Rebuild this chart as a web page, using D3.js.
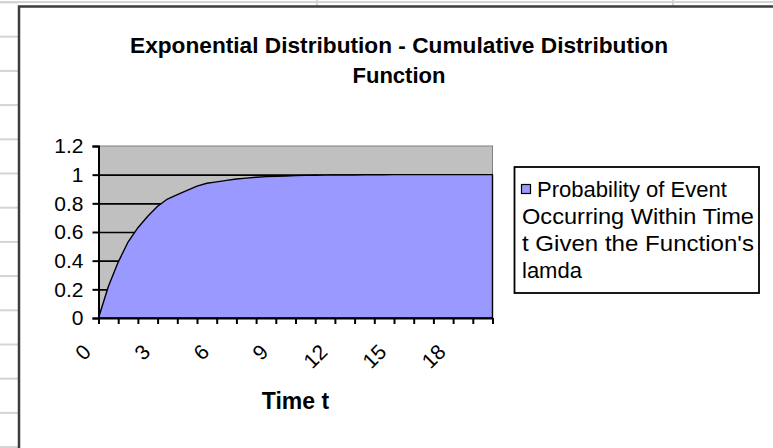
<!DOCTYPE html>
<html><head><meta charset="utf-8">
<script src="https://cdn.jsdelivr.net/npm/d3@7"></script>
<style>
html,body{margin:0;padding:0;background:#fff;}
svg{display:block;font-family:"Liberation Sans",Arial,sans-serif;}
</style></head>
<body>
<svg id="c" width="773" height="448"></svg>
<script>
// ---- data ----
const times = [0,0.5,1,1.5,2,2.5,3,3.5,4,4.5,5,5.5,6,6.5,7,7.5,8,8.5,9,9.5,10,10.5,11,11.5,12,12.5,13,13.5,14,14.5,15,15.5,16,16.5,17,17.5,18,18.5,19,19.5,20];
const probability = [0,0.22,0.39,0.53,0.63,0.71,0.78,0.83,0.86,0.89,0.92,0.94,0.95,0.96,0.97,0.976,0.982,0.986,0.989,0.991,0.993,0.995,0.996,0.997,0.998,0.998,0.998,0.999,0.999,0.999,1,1,1,1,1,1,1,1,1,1,1];
const xTickValues = [0,1,2,3,4,5,6,7,8,9,10,11,12,13,14,15,16,17,18,19,20];
const xLabelValues = [0,3,6,9,12,15,18];
const yTickValues = [0,0.2,0.4,0.6,0.8,1,1.2];
const gridValues = [0.2,0.4,0.6,0.8,1];
const titleLines = ["Exponential Distribution - Cumulative Distribution","Function"];
const xTitle = "Time t";
const legendLines = ["Probability of Event","Occurring Within Time","t Given the Function's","lamda"];

const svg = d3.select("#c");

// ---- spreadsheet background decoration ----
const sheet = svg.append("g");
for (let i = 0; i < 14; i++) {
  const yy = 2.5 + i * 34.2;
  sheet.append("line").attr("x1",0).attr("x2",18).attr("y1",yy).attr("y2",yy)
    .attr("stroke","#d4d4d4").attr("stroke-width",2);
}
sheet.append("line").attr("x1",0).attr("x2",773).attr("y1",2).attr("y2",2).attr("stroke","#d4d4d4").attr("stroke-width",2);
[317,673].forEach(xx => sheet.append("line").attr("x1",xx).attr("x2",xx).attr("y1",0).attr("y2",6).attr("stroke","#d4d4d4").attr("stroke-width",2));

// chart area
svg.append("rect").attr("x",19).attr("y",6.5).attr("width",780).attr("height",460)
  .attr("fill","#fff").attr("stroke","#3c3c3c").attr("stroke-width",2.5);

// ---- scales ----
const plot = {l:98.5, r:492.5, t:146, b:318};
const x = d3.scaleLinear().domain([0,20]).range([plot.l, plot.r]);
const y = d3.scaleLinear().domain([0,1.2]).range([plot.b, plot.t]);

// plot area
svg.append("rect").attr("x",plot.l).attr("y",plot.t).attr("width",plot.r-plot.l).attr("height",plot.b-plot.t)
  .attr("fill","#c0c0c0").attr("stroke","#808080").attr("stroke-width",1);

// gridlines
svg.append("g").attr("transform",`translate(${plot.l},0)`)
  .call(d3.axisLeft(y).tickValues(gridValues).tickSize(-(plot.r-plot.l)).tickFormat(""))
  .call(g => g.select(".domain").remove())
  .call(g => g.selectAll("line").attr("stroke","#000").attr("stroke-width",1.6));

// area
const area = d3.area().x((d,i)=>x(times[i])).y0(y(0)).y1(d=>y(d));
svg.append("path").datum(probability).attr("d",area)
  .attr("fill","#9999ff").attr("stroke","#000").attr("stroke-width",1.4).attr("stroke-linejoin","round");

// y axis
svg.append("g").attr("transform",`translate(${plot.l},0)`)
  .call(d3.axisLeft(y).tickValues(yTickValues).tickSize(6).tickPadding(9).tickFormat(d3.format("~g")))
  .call(g => g.select(".domain").attr("stroke","#000").attr("stroke-width",2))
  .call(g => g.selectAll(".tick line").attr("stroke","#000").attr("stroke-width",2))
  .call(g => g.selectAll("text").attr("font-size",21).attr("fill","#000")
      .attr("font-family","'Liberation Sans',Arial,sans-serif"));

// x axis
const xg = svg.append("g").attr("transform",`translate(0,${plot.b})`)
  .call(d3.axisBottom(x).tickValues(xTickValues).tickSize(6).tickSizeOuter(0)
        .tickFormat(d => xLabelValues.includes(d) ? String(d) : ""))
  .call(g => g.select(".domain").attr("stroke","#000").attr("stroke-width",2))
  .call(g => g.selectAll(".tick line").attr("stroke","#000").attr("stroke-width",2));
xg.selectAll(".tick text")
  .attr("font-size",21).attr("fill","#000")
  .attr("font-family","'Liberation Sans',Arial,sans-serif")
  .attr("text-anchor","end").attr("dominant-baseline","central")
  .attr("y",0).attr("dy",null)
  .attr("transform","translate(-12,30) rotate(-45)");

// x axis title
svg.append("text").attr("x",(plot.l+plot.r)/2).attr("y",409)
  .attr("text-anchor","middle").attr("font-size",23).attr("font-weight","bold").attr("fill","#000")
  .text(xTitle);

// title
const titleW = [538, 93];
titleLines.forEach((t,i) => {
  svg.append("text").attr("x",399).attr("y",53 + i*30).attr("text-anchor","middle")
    .attr("font-size",22.5).attr("font-weight","bold").attr("fill","#000")
    .attr("textLength",titleW[i]).attr("lengthAdjust","spacingAndGlyphs")
    .text(t);
});

// legend
const lg = svg.append("g");
lg.append("rect").attr("x",514.5).attr("y",167).attr("width",244.5).attr("height",126)
  .attr("fill","#fff").attr("stroke","#000").attr("stroke-width",1.8);
lg.append("rect").attr("x",521.5).attr("y",184.5).attr("width",9).attr("height",9)
  .attr("fill","#9999ff").attr("stroke","#000").attr("stroke-width",1.2);
const legendW = [190, 232, 232, null];
legendLines.forEach((t,i) => {
  const tx = lg.append("text").attr("x", i===0 ? 537 : 522).attr("y",197 + i*27)
    .attr("font-size",22).attr("fill","#000").text(t);
  if (legendW[i]) tx.attr("textLength",legendW[i]).attr("lengthAdjust","spacingAndGlyphs");
});
</script>
</body></html>
